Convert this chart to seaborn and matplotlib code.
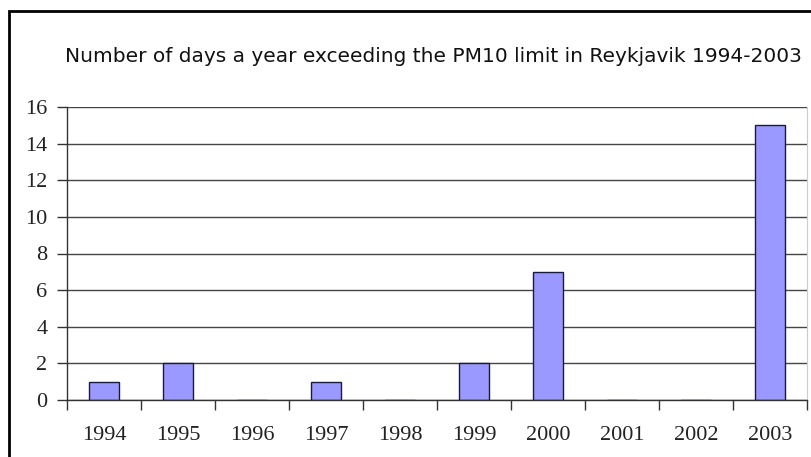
import numpy as np
import pandas as pd
import seaborn as sns
import matplotlib.pyplot as plt
from matplotlib.patches import Rectangle

# Chart data.
years = ["1994", "1995", "1996", "1997", "1998", "1999", "2000", "2001", "2002", "2003"]
days_exceeding = [1, 2, 0, 1, 0, 2, 7, 0, 0, 15]
title_text = "Number of days a year exceeding the PM10 limit in Reykjavik 1994-2003"

df = pd.DataFrame({"year": years, "days": days_exceeding})

sns.set_style("white")

fig = plt.figure(figsize=(8.11, 4.57), dpi=100)
ax = fig.add_axes([67 / 811, 1 - 400 / 457, 740 / 811, 293 / 457])

# Horizontal gridlines behind the bars.
ax.set_axisbelow(True)
ax.yaxis.grid(True, color="#454545", linewidth=1)

sns.barplot(data=df, x="year", y="days", color="#9999FF", saturation=1,
            width=0.41, edgecolor="#1a1a40", linewidth=1, ax=ax)

ax.set_xlim(-0.5, len(years) - 0.5)
ax.set_ylim(0, 16)
ax.set_yticks(range(0, 17, 2))

# Tick marks sit between the categories, labels at their centres.
ax.set_xticks(np.arange(-0.5, len(years), 1))
ax.set_xticklabels([])
ax.set_xticks(range(len(years)), minor=True)
ax.set_xticklabels(years, minor=True)
ax.tick_params(axis="x", which="major", length=7, width=1, color="#333333", direction="out", bottom=True)
ax.tick_params(axis="x", which="minor", length=0, pad=19, labelsize=16)
ax.tick_params(axis="y", length=7, width=1, color="#333333", direction="out", left=True, pad=7, labelsize=16)

for label in ax.get_xticklabels(minor=True) + ax.get_yticklabels():
    label.set_fontfamily("Liberation Serif")
    label.set_color("#222222")

ax.set_xlabel("")
ax.set_ylabel("")

for side in ["left", "bottom"]:
    ax.spines[side].set_color("#333333")
    ax.spines[side].set_linewidth(1)
ax.spines["top"].set_visible(False)
ax.spines["right"].set_color("#cccccc")

fig.text(0.535, 1 - 57 / 457, title_text, ha="center", va="center",
         fontsize=14.5, fontfamily="DejaVu Sans", color="#111111")

# Outer chart border.
fig.patches.append(Rectangle((9 / 811, -0.1), 1.2, 1 - 11 / 457 + 0.1,
                             transform=fig.transFigure, fill=False,
                             edgecolor="black", linewidth=2))

plt.savefig("out.png", dpi=100)
